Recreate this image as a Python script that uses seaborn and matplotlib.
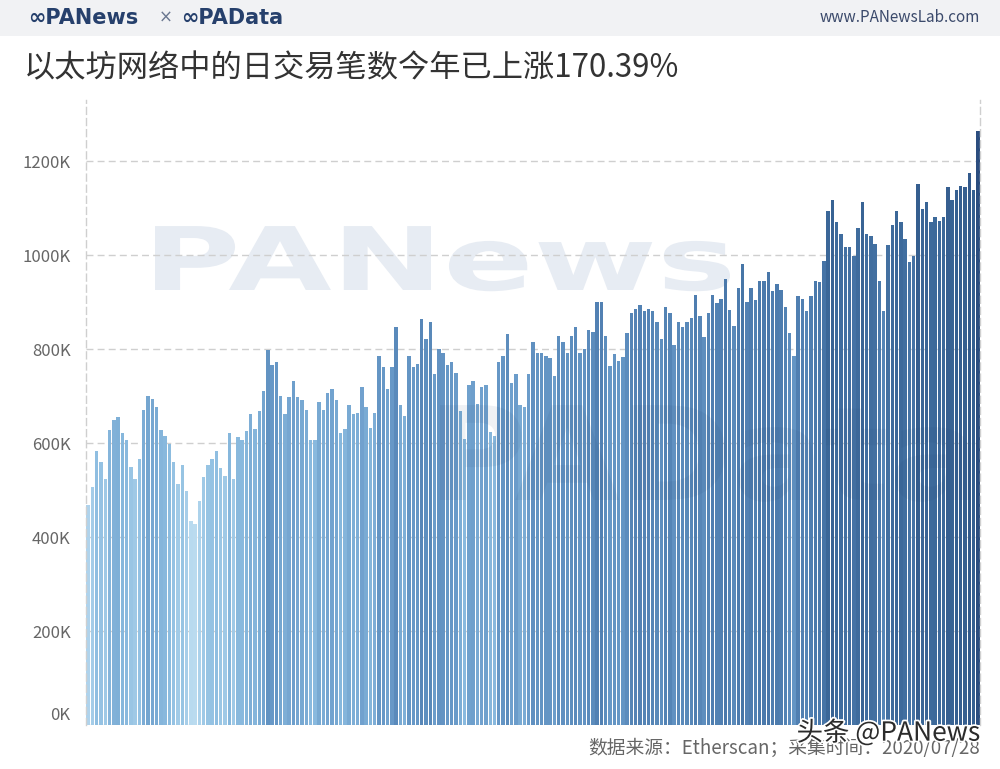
import numpy as np
import pandas as pd
import matplotlib
matplotlib.use("Agg")
import matplotlib.pyplot as plt
import seaborn as sns
from matplotlib.colors import LinearSegmentedColormap
from matplotlib.transforms import ScaledTranslation, Affine2D, IdentityTransform
from matplotlib.textpath import TextPath
from matplotlib.patches import PathPatch
from matplotlib.font_manager import FontProperties
import matplotlib.patheffects as pe

# ---------------- data ----------------
dates = pd.date_range("2020-01-01", periods=209, freq="D")
tx_k = [
    468, 507, 583, 560, 523, 628, 648, 655, 622, 606, 549, 523, 566, 671, 700,
    694, 677, 628, 615, 599, 560, 513, 553, 497, 435, 428, 477, 527, 553, 566,
    583, 546, 529, 622, 523,
    612, 606, 625, 661, 629, 668, 711, 798, 766, 772, 700, 661, 697, 733, 697,
    691, 670, 606, 606, 688, 670, 707, 714, 691, 622, 629, 681, 662, 665, 720,
    677, 631, 665, 785, 762,
    714, 762, 847, 680, 658, 785, 762, 769, 864, 821, 857, 747, 801, 792, 766,
    772, 750, 668, 608, 723, 733, 684, 720, 723, 624, 615, 772, 785, 831, 727,
    746, 680, 677, 746,
    815, 791, 791, 785, 782, 743, 828, 815, 791, 828, 847, 791, 801, 840, 837,
    900, 900, 828, 765, 789, 775, 784, 835, 877, 886, 893, 882, 886, 880, 857,
    821, 890, 876, 808, 857,
    847, 857, 867, 916, 870, 825, 877, 916, 897, 907, 949, 884, 850, 929, 981,
    900, 929, 904, 945, 945, 965, 923, 939, 926, 890, 834, 785, 913, 906, 881,
    913, 945, 942, 988,
    1093, 1118, 1070, 1044, 1018, 1018, 999, 1057, 1112, 1044, 1040, 1023, 945,
    880, 1021, 1063, 1093, 1070, 1034, 985, 998, 1152, 1099, 1112, 1070, 1080,
    1073, 1082, 1145, 1118, 1138, 1148, 1145, 1174, 1138, 1263,
]
y_ticks = [0, 200, 400, 600, 800, 1000, 1200]
y_tick_labels = ["0K", "200K", "400K", "600K", "800K", "1000K", "1200K"]
title = "以太坊网络中的日交易笔数今年已上涨170.39%"
source = "数据来源：Etherscan；采集时间：2020/07/28"

df = pd.DataFrame({"date": dates.strftime("%m-%d"), "tx": tx_k})

# ---------------- style ----------------
sns.set_theme(style="white")
plt.rcParams["font.family"] = ["Noto Sans CJK SC", "DejaVu Sans"]

cmap = LinearSegmentedColormap.from_list(
    "eth", ["#bcdcf0", "#8dbde0", "#6899c8", "#4d7cae", "#3a6697", "#2a4c7e"])

W, H = 1000, 769
fig = plt.figure(figsize=(10, 7.69), dpi=100)
fig.patch.set_facecolor("white")

# header band
fig.patches.append(plt.Rectangle((0, 1 - 36 / H), 1, 36 / H,
                                 transform=fig.transFigure,
                                 facecolor="#f1f2f4", edgecolor="none", zorder=0))
fig.text(0.028, 1 - 18 / H, "∞PANews", fontsize=15, fontweight="bold",
         color="#26406c", va="center", ha="left", family=["DejaVu Sans"])
fig.text(0.159, 1 - 18 / H, "×", fontsize=12, color="#6a7790",
         va="center", ha="left", family=["DejaVu Sans"])
fig.text(0.181, 1 - 18 / H, "∞PAData", fontsize=15, fontweight="bold",
         color="#26406c", va="center", ha="left", family=["DejaVu Sans"])
fig.text(0.980, 1 - 18 / H, "www.PANewsLab.com", fontsize=11,
         color="#3b4a6b", va="center", ha="right")

fig.text(0.024, 1 - 68 / H, title, fontsize=22.5, color="#333333",
         fontweight="medium", va="center", ha="left")


def watermark(text, x0, x1, y_base, cap, color, alpha, zorder):
    fp = FontProperties(family="DejaVu Sans", weight="bold")
    tp = TextPath((0, 0), text, size=1, prop=fp)
    ext = tp.get_extents()
    sx = (x1 - x0) / ext.width
    sy = cap / 0.73
    tr = Affine2D().translate(-ext.x0, 0).scale(sx, sy).translate(x0, H - y_base)
    patch = PathPatch(tr.transform_path(tp), transform=IdentityTransform(),
                      facecolor=color, edgecolor="none", alpha=alpha,
                      zorder=zorder)
    fig.patches.append(patch)


ax = fig.add_axes([86 / W, 44 / H, 894 / W, 625 / H])
ax.set_facecolor("none")
ax.set_zorder(1)

# background watermark (behind bars)
watermark("PANews", 155, 730, 290, 64, "#e7ecf3", 1.0, 0)

sns.barplot(data=df, x="date", y="tx", hue="tx", palette=cmap,
            hue_norm=(420, 1270), dodge=False, legend=False,
            width=0.8, saturation=1, linewidth=0, ax=ax, zorder=2)

ax.set_xlim(-0.5, len(tx_k) - 0.5)
ax.set_ylim(0, 1330)
ax.set_yticks(y_ticks)
ax.set_yticklabels(y_tick_labels)
ax.set_xticks([])
ax.set_xlabel("")
ax.set_ylabel("")
ax.tick_params(axis="y", length=0, pad=11, labelsize=12, labelcolor="#666666")

ax.yaxis.grid(True, color="#cfcfcf", linestyle=(0, (5, 3)), linewidth=1.0)
ax.set_axisbelow(True)

for side in ["top", "bottom"]:
    ax.spines[side].set_visible(False)
for side in ["left", "right"]:
    ax.spines[side].set_visible(True)
    ax.spines[side].set_color("#cfcfcf")
    ax.spines[side].set_linestyle((0, (5, 3)))
    ax.spines[side].set_linewidth(1.0)

# lift the 0K label slightly as in the reference
lab0 = ax.get_yticklabels()[0]
lab0.set_transform(lab0.get_transform() +
                   ScaledTranslation(0, 11 / 100, fig.dpi_scale_trans))

# overlay watermark (over bars, very faint)
ov = fig.add_axes([0, 0, 1, 1], facecolor="none")
ov.set_axis_off()
ov.set_zorder(3)
fp2 = FontProperties(family="DejaVu Sans", weight="bold")
tp2 = TextPath((0, 0), "PAData", size=1, prop=fp2)
e2 = tp2.get_extents()
tr2 = (Affine2D().translate(-e2.x0, 0).scale(530 / e2.width, 95 / 0.73)
       .translate(440, H - 500))
ov.add_patch(PathPatch(tr2.transform_path(tp2), transform=IdentityTransform(),
                       facecolor="#1d3d6b", edgecolor="none", alpha=0.07))

fig.text(0.980, 1 - 748 / H, source, fontsize=13.5, color="#666666",
         va="center", ha="right", zorder=4)
fig.text(0.980, 1 - 733 / H, "头条 @PANews", fontsize=19, color="#2b2b2b",
         va="center", ha="right", zorder=5,
         path_effects=[pe.withStroke(linewidth=2.5, foreground="white")])

fig.savefig("out.png", dpi=100)
